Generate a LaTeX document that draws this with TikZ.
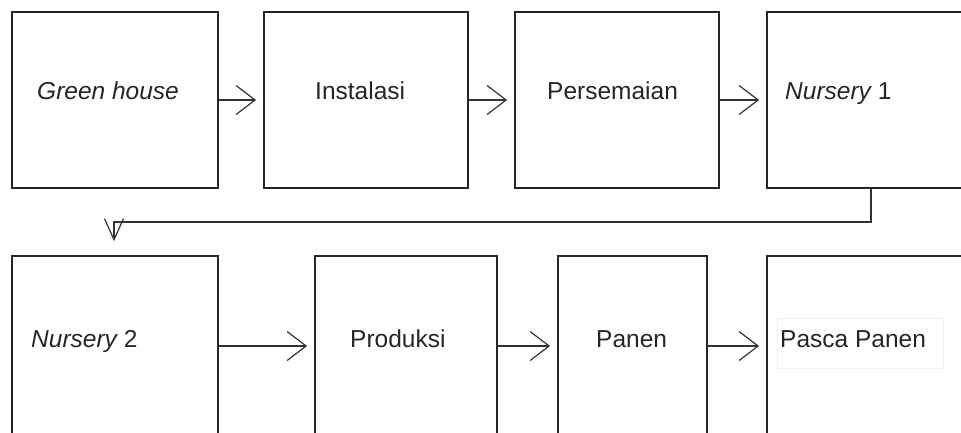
\documentclass[tikz,border=0pt]{standalone}
\usepackage{fontspec}
\setmainfont{Liberation Sans}
\usetikzlibrary{arrows.meta}
\tikzset{
  stagebox/.style={draw=black!85, line width=1.8pt, rectangle, inner sep=0pt, fill=white},
  lbl/.style={anchor=base west, inner sep=0pt, text=black!85, font=\fontsize{24.5}{28}\selectfont},
  conn/.style={draw=black!80, line width=1.3pt, -{Straight Barb[length=19pt,width=29pt,line width=1.2pt]}, shorten >=7pt},
  downconn/.style={draw=black!80, line width=1.3pt, -{Straight Barb[length=21pt,width=19pt,line width=1.2pt]}, shorten >=14pt}
}
\begin{document}
\begin{tikzpicture}[x=1pt,y=-1pt]
\useasboundingbox (0,0) rectangle (961,432);
\clip (0,0) rectangle (961,432);
\fill[white] (0,0) rectangle (961,432);
% top row
\node[stagebox, minimum width=206pt, minimum height=176pt] (b1) at (115,100) {};
\node[stagebox, minimum width=204pt, minimum height=176pt] (b2) at (366,100) {};
\node[stagebox, minimum width=204pt, minimum height=176pt] (b3) at (617,100) {};
\node[stagebox, minimum width=208pt, minimum height=176pt] (b4) at (871,100) {};
% bottom row
\node[stagebox, minimum width=206pt, minimum height=180pt] (b5) at (115,346) {};
\node[stagebox, minimum width=182pt, minimum height=180pt] (b6) at (406,346) {};
\node[stagebox, minimum width=149pt, minimum height=180pt] (b7) at (632.5,346) {};
\node[stagebox, minimum width=208pt, minimum height=180pt] (b8) at (871,346) {};
% faint text frame
\node[draw=black!6, line width=0.6pt, minimum width=166pt, minimum height=50pt, inner sep=0pt] (pf) at (860,343) {};
% labels
\node[lbl] (t1) at (37,99) {\itshape Green house};
\node[lbl] (t2) at (315,99) {Instalasi};
\node[lbl] (t3) at (547,99) {Persemaian};
\node[lbl] (t4) at (785,99) {\itshape Nursery\upshape\ 1};
\node[lbl] (t5) at (31,347) {\itshape Nursery\upshape\ 2};
\node[lbl] (t6) at (350,347) {Produksi};
\node[lbl] (t7) at (596,347) {Panen};
\node[lbl] (t8) at (780,347) {Pasca Panen};
% connectors
\draw[conn] (b1.east) -- (b2.west);
\draw[conn] (b2.east) -- (b3.west);
\draw[conn] (b3.east) -- (b4.west);
\coordinate (turn) at (114,222);
\draw[downconn] (b4.south) |- (turn) -- (turn |- b5.north);
\draw[conn] (b5.east) -- (b6.west);
\draw[conn] (b6.east) -- (b7.west);
\draw[conn] (b7.east) -- (b8.west);
\end{tikzpicture}
\end{document}
